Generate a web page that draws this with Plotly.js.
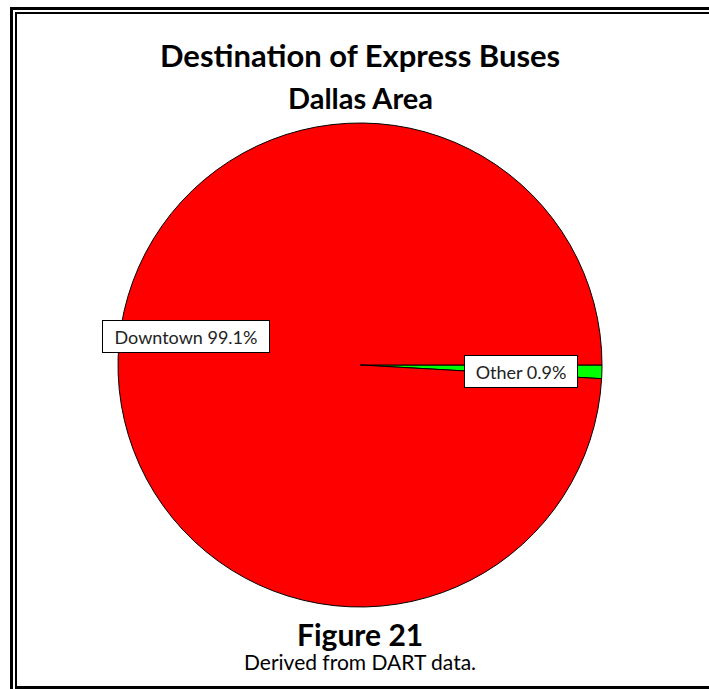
<!DOCTYPE html>
<html>
<head>
<meta charset="utf-8">
<script src="https://cdn.plot.ly/plotly-3.0.1.min.js"></script>
<style>html,body{margin:0;padding:0;background:#fff;}#chart{width:709px;height:689px;}</style>
</head>
<body>
<div id="chart"></div>
<script>
const labels = ["Other", "Downtown"];
const values = [0.9, 99.1];
const colors = ["#00FF00", "#FF0000"];
const titleText = "Destination of Express Buses";
const subtitleText = "Dallas Area";
const figureText = "Figure 21";
const sourceText = "Derived from DART data.";

const W = 709, H = 689;
const px = x => x / W;
const py = y => 1 - y / H;

const cx = 360, cy = 365, R = 242;

const data = [{
  type: "pie",
  labels: labels,
  values: values,
  sort: false,
  direction: "clockwise",
  rotation: 90,
  textinfo: "none",
  hoverinfo: "label+percent",
  marker: { colors: colors, line: { color: "#000", width: 1 } },
  domain: { x: [px(cx - R), px(cx + R)], y: [py(cy + R), py(cy - R)] },
  showlegend: false
}];

const lblFont = { family: "Lato, 'DejaVu Sans', sans-serif", size: 18, color: "#222" };
const labelPos = { "Downtown": [186, 336, 166, 31], "Other": [521, 371, 112, 31] };

const annotations = [
  { text: "<b>" + titleText + "</b>", x: px(cx), y: py(55), font: { family: "Lato, sans-serif", size: 31, color: "#000" } },
  { text: "<b>" + subtitleText + "</b>", x: px(cx), y: py(98), font: { family: "Lato, sans-serif", size: 29, color: "#000" } },
  { text: "<b>" + figureText + "</b>", x: px(cx), y: py(634), font: { family: "Lato, sans-serif", size: 30, color: "#000" } },
  { text: sourceText, x: px(cx), y: py(661), font: { family: "Lato, sans-serif", size: 21, color: "#000" } }
].map(a => Object.assign({ xref: "paper", yref: "paper", xanchor: "center", yanchor: "middle", showarrow: false }, a));

labels.forEach((l, i) => {
  const p = labelPos[l];
  annotations.push({
    xref: "paper", yref: "paper", x: px(p[0]), y: py(p[1]),
    xanchor: "center", yanchor: "middle", showarrow: false,
    text: l + " " + values[i].toFixed(1) + "%",
    font: lblFont, bgcolor: "#fff", bordercolor: "#000", borderwidth: 1,
    borderpad: 0, width: p[2], height: p[3]
  });
});

const ln = (x0, y0, x1, y1, w) => ({ type: "line", xref: "paper", yref: "paper",
  x0: px(x0), y0: py(y0), x1: px(x1), y1: py(y1), line: { color: "#000", width: w } });

const shapes = [
  ln(10, 8.5, 709, 8.5, 3),
  ln(11.5, 7, 11.5, 689, 3),
  ln(15, 13, 709, 13, 2),
  ln(16, 12, 16, 689, 2),
  ln(15, 687.5, 709, 687.5, 3)
];

const layout = {
  width: W, height: H,
  margin: { l: 0, r: 0, t: 0, b: 0 },
  paper_bgcolor: "#fff",
  annotations: annotations,
  shapes: shapes
};

Plotly.newPlot("chart", data, layout, { displayModeBar: false, staticPlot: true });
</script>
</body>
</html>
